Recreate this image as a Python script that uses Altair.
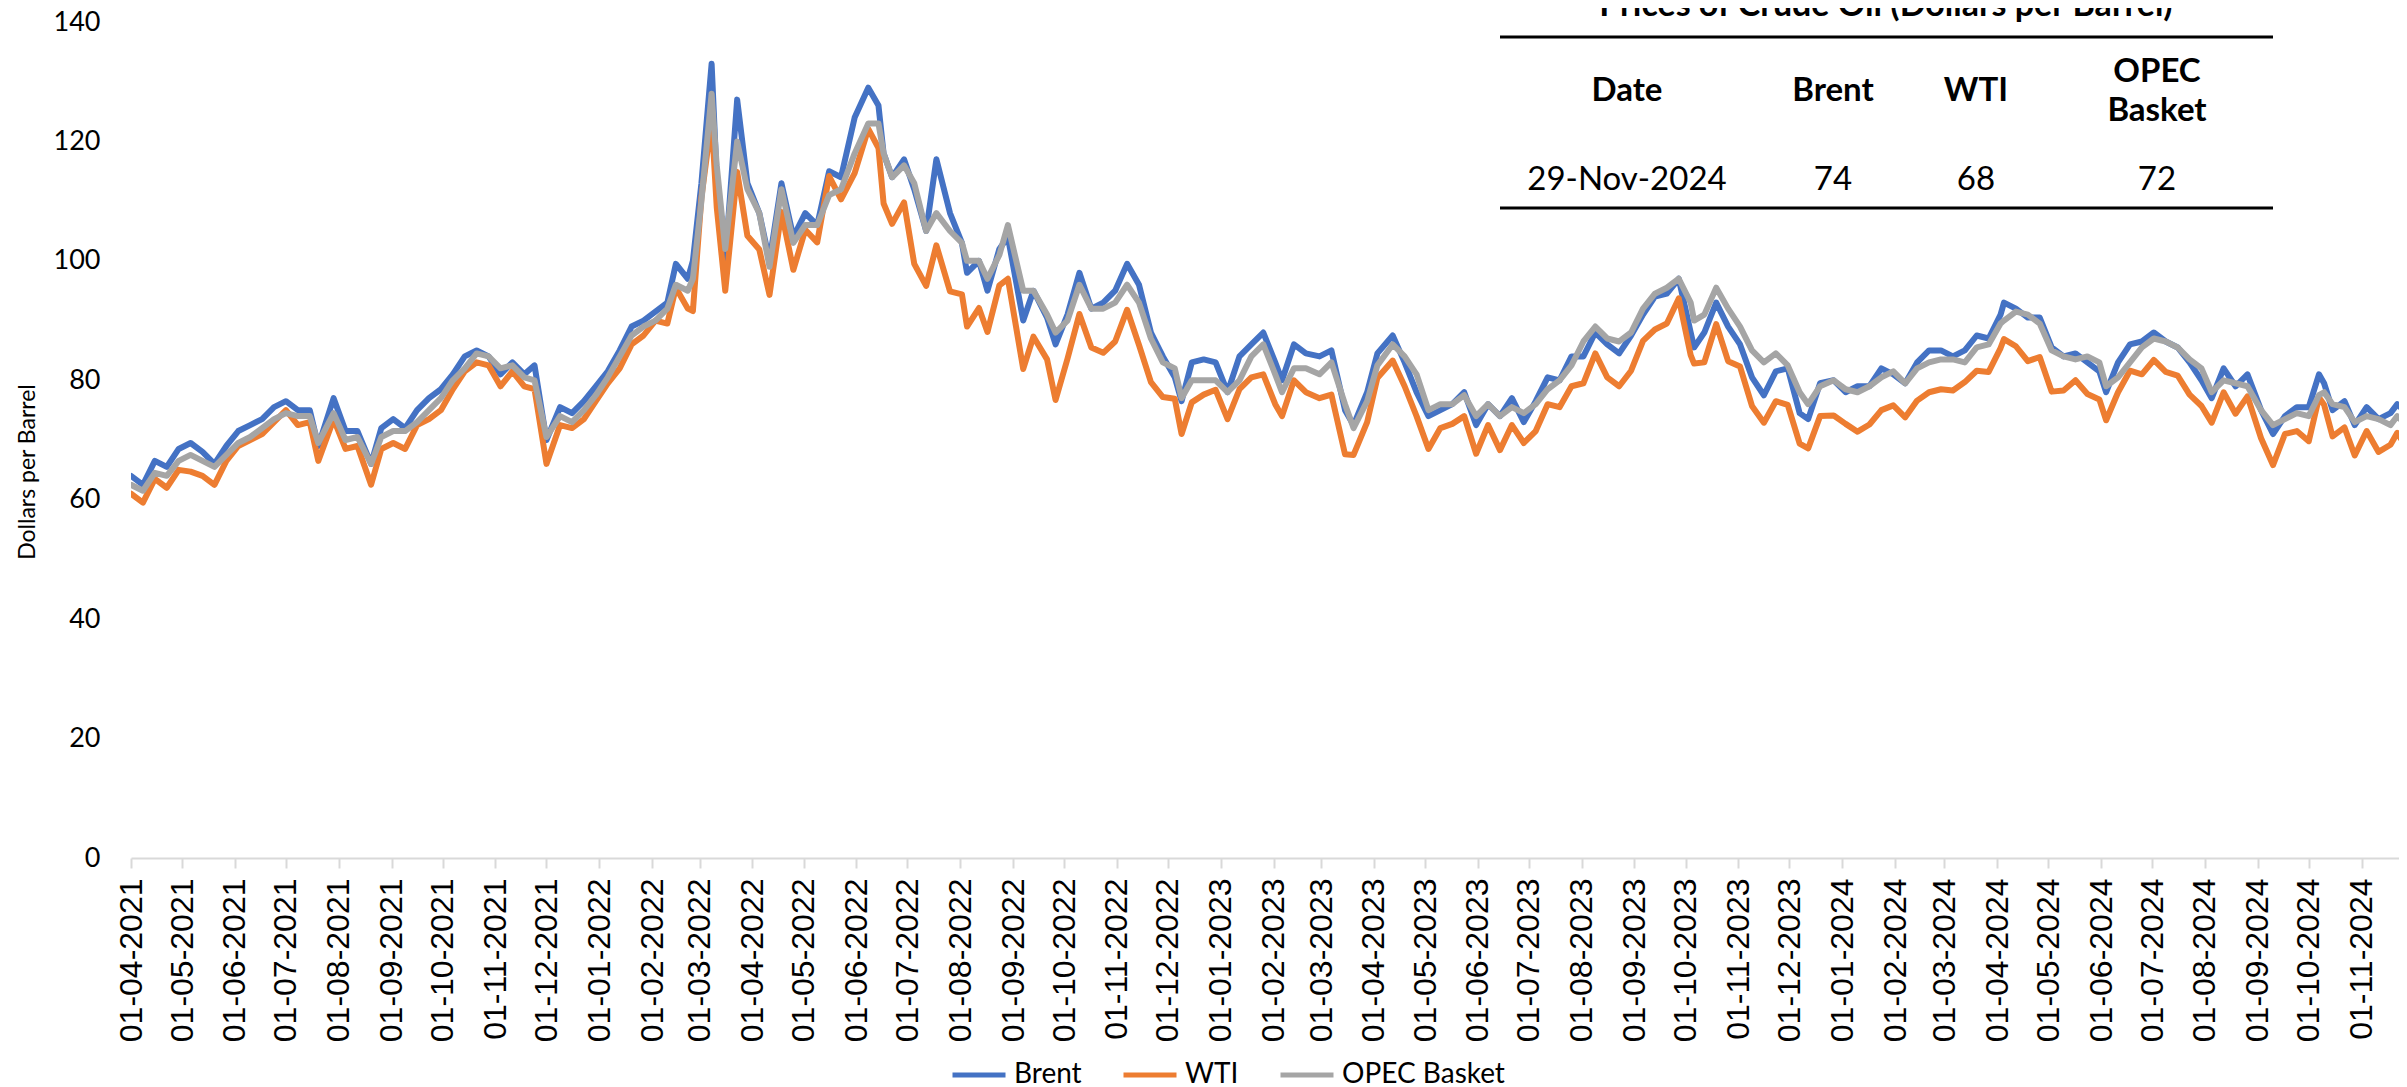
import altair as alt
import pandas as pd

# ---------------- data ----------------
dates = [
    # 2021
    "2021-04-01", "2021-04-08", "2021-04-15", "2021-04-22", "2021-04-29",
    "2021-05-06", "2021-05-13", "2021-05-20", "2021-05-27",
    "2021-06-03", "2021-06-10", "2021-06-17", "2021-06-24",
    "2021-07-01", "2021-07-08", "2021-07-15", "2021-07-20", "2021-07-29",
    "2021-08-05", "2021-08-12", "2021-08-20", "2021-08-26",
    "2021-09-02", "2021-09-09", "2021-09-16", "2021-09-23", "2021-09-30",
    "2021-10-07", "2021-10-14", "2021-10-21", "2021-10-28",
    "2021-11-04", "2021-11-11", "2021-11-18", "2021-11-24",
    "2021-12-01", "2021-12-09", "2021-12-16", "2021-12-23", "2021-12-30",
    # 2022
    "2022-01-06", "2022-01-13", "2022-01-20", "2022-01-27",
    "2022-02-03", "2022-02-10", "2022-02-15", "2022-02-22", "2022-02-25",
    "2022-03-02", "2022-03-08", "2022-03-11", "2022-03-16", "2022-03-23", "2022-03-29",
    "2022-04-05", "2022-04-11", "2022-04-18", "2022-04-25",
    "2022-05-02", "2022-05-09", "2022-05-16", "2022-05-23", "2022-05-31",
    "2022-06-08", "2022-06-14", "2022-06-17", "2022-06-22", "2022-06-29",
    "2022-07-05", "2022-07-12", "2022-07-18", "2022-07-26",
    "2022-08-02", "2022-08-05", "2022-08-12", "2022-08-17", "2022-08-24", "2022-08-29",
    "2022-09-07", "2022-09-13", "2022-09-21", "2022-09-26",
    "2022-10-03", "2022-10-10", "2022-10-17", "2022-10-24", "2022-10-31",
    "2022-11-07", "2022-11-14", "2022-11-21", "2022-11-28",
    "2022-12-05", "2022-12-09", "2022-12-15", "2022-12-22", "2022-12-29",
    # 2023
    "2023-01-05", "2023-01-12", "2023-01-19", "2023-01-26",
    "2023-02-02", "2023-02-06", "2023-02-13", "2023-02-20", "2023-02-28",
    "2023-03-07", "2023-03-15", "2023-03-20", "2023-03-28",
    "2023-04-03", "2023-04-12", "2023-04-19", "2023-04-26",
    "2023-05-03", "2023-05-10", "2023-05-17", "2023-05-24", "2023-05-31",
    "2023-06-07", "2023-06-14", "2023-06-21", "2023-06-28",
    "2023-07-05", "2023-07-12", "2023-07-19", "2023-07-26",
    "2023-08-02", "2023-08-09", "2023-08-16", "2023-08-23", "2023-08-30",
    "2023-09-06", "2023-09-13", "2023-09-20", "2023-09-27",
    "2023-10-04", "2023-10-06", "2023-10-12", "2023-10-19", "2023-10-26",
    "2023-11-02", "2023-11-09", "2023-11-16", "2023-11-23", "2023-11-30",
    "2023-12-07", "2023-12-12", "2023-12-19", "2023-12-27",
    # 2024
    "2024-01-03", "2024-01-10", "2024-01-17", "2024-01-24", "2024-01-31",
    "2024-02-07", "2024-02-14", "2024-02-21", "2024-02-28",
    "2024-03-06", "2024-03-13", "2024-03-20", "2024-03-27",
    "2024-04-03", "2024-04-05", "2024-04-12", "2024-04-19", "2024-04-26",
    "2024-05-03", "2024-05-10", "2024-05-17", "2024-05-24", "2024-05-31",
    "2024-06-04", "2024-06-11", "2024-06-18", "2024-06-25",
    "2024-07-02", "2024-07-09", "2024-07-16", "2024-07-23", "2024-07-30",
    "2024-08-05", "2024-08-12", "2024-08-19", "2024-08-26",
    "2024-09-03", "2024-09-10", "2024-09-17", "2024-09-24",
    "2024-10-01", "2024-10-07", "2024-10-10", "2024-10-15", "2024-10-22", "2024-10-28",
    "2024-11-04", "2024-11-11", "2024-11-18", "2024-11-22", "2024-11-29",
]

brent = [
    # 2021
    64, 62.5, 66.5, 65.5, 68.5,
    69.5, 68, 66, 69,
    71.5, 72.5, 73.5, 75.5,
    76.5, 75, 75, 69, 77,
    71.5, 71.5, 66, 72,
    73.5, 72, 75, 77, 78.5,
    81, 84, 85, 84,
    81, 83, 81, 82.5,
    70, 75.5, 74.5, 76.5, 79,
    # 2022
    81.5, 85, 89, 90,
    91.5, 93, 99.5, 97, 100,
    113, 133, 114, 100, 127, 113,
    108, 100, 113, 104,
    108, 106, 115, 114, 124,
    129, 126, 118, 114, 117,
    112, 105, 117, 108,
    103, 98, 100, 95, 102, 104,
    90, 95, 90.5, 86,
    91, 98, 92, 93, 95,
    99.5, 96, 88, 84,
    80.5, 76.5, 83, 83.5, 83,
    # 2023
    78, 84, 86, 88,
    83, 80, 86, 84.5, 84,
    85, 75, 72.5, 78,
    84.5, 87.5, 83, 78,
    74, 75, 76, 78, 72.5,
    76, 74, 77, 73,
    76.5, 80.5, 80, 84,
    84, 88, 86, 84.5, 87.5,
    91, 94, 94.5, 97,
    88, 85.5, 88, 93, 89,
    86, 80.5, 77.5, 81.5, 82,
    74.5, 73.5, 79.5, 80,
    # 2024
    78, 79, 79, 82, 81,
    79.5, 83, 85, 85,
    84, 85, 87.5, 87,
    91, 93, 92, 90.5, 90.5,
    85.5, 84, 84.5, 83, 81.5,
    78, 83, 86, 86.5,
    88, 86.5, 85.5, 83, 80,
    77, 82, 79, 81,
    75, 71, 74, 75.5,
    75.5, 81, 79.5, 75, 76.5, 72.5,
    75.5, 73.5, 74.5, 76, 74,
]

wti = [
    # 2021
    61, 59.5, 63.5, 62, 65,
    64.7, 64, 62.5, 66.5,
    69, 70, 71, 73,
    75, 72.5, 73, 66.5, 73.5,
    68.5, 69, 62.5, 68.5,
    69.5, 68.5, 72.5, 73.5, 75,
    78.5, 81.5, 83, 82.5,
    79, 81.5, 79, 78.5,
    66, 72.5, 72, 73.5, 76.5,
    # 2022
    79.5, 82, 86, 87.5,
    90, 89.5, 95.5, 92, 91.6,
    110.6, 123.7, 109, 95, 114.9, 104.2,
    101.9, 94.3, 108.2, 98.5,
    105.2, 103.1, 114.2, 110.3, 114.7,
    122.1, 118.9, 109.6, 106.2, 109.8,
    99.5, 95.8, 102.6, 94.9,
    94.4, 89, 92.1, 88.1, 95.9, 97,
    81.9, 87.3, 83.5, 76.7,
    83.6, 91.1, 85.5, 84.6, 86.5,
    91.8, 85.9, 79.7, 77.2,
    76.9, 71, 76.3, 77.6, 78.4,
    # 2023
    73.5, 78.5, 80.5, 81,
    76, 74, 80, 78, 77,
    77.6, 67.6, 67.5, 73,
    80.4, 83.3, 79, 74,
    68.5, 72, 72.7, 74, 67.7,
    72.5, 68.3, 72.5, 69.5,
    71.5, 76, 75.5, 79,
    79.5, 84.5, 80.5, 79, 81.6,
    86.6, 88.5, 89.5, 93.7,
    84.2, 82.8, 83, 89.4, 83.2,
    82.3, 75.7, 72.9, 76.5, 75.9,
    69.4, 68.6, 74, 74.1,
    # 2024
    72.7, 71.4, 72.6, 75, 75.8,
    73.8, 76.6, 78, 78.5,
    78.3, 79.7, 81.6, 81.4,
    85.4, 86.9, 85.7, 83.2, 83.9,
    78.1, 78.3, 80, 77.7, 76.8,
    73.3, 78, 81.6, 81,
    83.4, 81.4, 80.8, 77.6, 75.7,
    72.9, 78, 74.4, 77.3,
    70.3, 65.8, 71, 71.5,
    69.8, 77.1, 75.9, 70.6, 72.1, 67.4,
    71.5, 68, 69.2, 71.2, 68,
]

opec = [
    # 2021
    62.5, 61.5, 64.5, 64, 66.5,
    67.5, 66.5, 65.5, 67.5,
    69.5, 70.5, 72, 73.5,
    74.5, 74, 74, 69.5, 74.5,
    70, 70.5, 66, 70.5,
    71.5, 71.5, 73, 75, 77,
    80, 82, 84.5, 84,
    82, 82.5, 80.5, 80,
    70.5, 74, 73, 75, 77.5,
    # 2022
    80.5, 84, 87.5, 89,
    90, 92, 96, 95, 97,
    110, 128, 116, 102, 120, 112,
    108, 99, 112, 103,
    106, 106, 111, 112, 118,
    123, 123, 118, 114, 116,
    113, 105, 108, 105,
    103, 100, 100, 97, 101, 106,
    95, 95, 91, 88,
    90, 96, 92, 92, 93,
    96, 93, 87, 83,
    82, 77, 80, 80, 80,
    # 2023
    78, 80, 84, 86,
    81, 78, 82, 82, 81,
    83, 76, 72, 76.5,
    82.5, 86, 84, 81,
    75, 76, 76, 77.5, 74,
    76, 74, 75.5, 74.5,
    76, 78.5, 80, 82.5,
    86.5, 89, 87, 86.5, 88,
    92, 94.5, 95.5, 97,
    93, 90, 91, 95.5, 92,
    89, 85, 83, 84.5, 82.5,
    78, 76, 79, 80,
    # 2024
    78.5, 78, 79, 80.5, 81.5,
    79.5, 82, 83, 83.5,
    83.5, 83, 85.5, 86,
    89.5, 90, 91.5, 91, 89.5,
    85, 84, 83.5, 84, 83,
    79, 80.5, 83, 85.5,
    87, 86.5, 85.5, 83.5, 82,
    78, 80, 79.5, 79,
    75, 72.5, 73.5, 74.5,
    74, 77.5, 78, 76, 75.5, 73,
    74, 73.5, 72.5, 74, 72,
]

assert len(dates) == len(brent) == len(wti) == len(opec)

series_names = ["Brent", "WTI", "OPEC Basket"]
series_colors = ["#4472C4", "#ED7D31", "#A5A5A5"]

y_ticks = [0, 20, 40, 60, 80, 100, 120, 140]
y_title = "Dollars per Barrel"
x_tick_dates = [d.strftime("%Y-%m-%d") for d in pd.date_range("2021-04-01", "2024-11-01", freq="MS")]
x_domain = ["2021-04-01", "2024-11-23"]

table_title = "Prices of Crude Oil (Dollars per Barrel)"
table_header = ["Date", "Brent", "WTI", "OPEC\nBasket"]
table_row = ["29-Nov-2024", "74", "68", "72"]

# ---------------- build ----------------
def ms(s):
    return int(pd.Timestamp(s).value // 10**6)

df = pd.DataFrame({
    "date": dates * 3,
    "value": brent + wti + opec,
    "series": ["Brent"] * len(dates) + ["WTI"] * len(dates) + ["OPEC Basket"] * len(dates),
})

x_enc = alt.X(
    "date:T",
    scale=alt.Scale(type="utc", domain=[ms(x_domain[0]), ms(x_domain[1])]),
    axis=alt.Axis(
        values=[ms(d) for d in x_tick_dates],
        labelExpr="utcFormat(datum.value, '%d-%m-%Y')",
        labelAngle=270,
        labelFont="Liberation Sans",
        labelFontSize=32,
        labelColor="#000000",
        labelPadding=10,
        labelFlush=False,
        labelOverlap=False,
        tickSize=10,
        tickColor="#D9D9D9",
        tickWidth=2,
        domainColor="#D9D9D9",
        domainWidth=2,
        grid=False,
        title=None,
    ),
)

y_enc = alt.Y(
    "value:Q",
    scale=alt.Scale(domain=[0, 140], nice=False),
    axis=alt.Axis(
        values=y_ticks,
        grid=False,
        domain=False,
        ticks=False,
        tickSize=0,
        labelPadding=31,
        labelFont="Lato",
        labelFontSize=27,
        labelColor="#000000",
        title=None,
    ),
)

color_enc = alt.Color(
    "series:N",
    scale=alt.Scale(domain=series_names, range=series_colors),
    legend=alt.Legend(
        orient="none",
        legendX=819,
        legendY=1024,
        direction="horizontal",
        title=None,
        symbolType="stroke",
        symbolSize=2809,
        symbolStrokeWidth=5,
        labelFont="Lato",
        labelFontSize=28,
        labelColor="#000000",
        labelOffset=6,
        labelLimit=0,
        columnPadding=31,
    ),
)

lines = [
    alt.Chart(df)
    .transform_filter(alt.datum.series == name)
    .mark_line(strokeWidth=6, clip=True, strokeJoin="round", strokeCap="round")
    .encode(x=x_enc, y=y_enc, color=color_enc)
    for name in series_names
]

# y-axis title as a rotated text (layout position in plot pixels)
y_title_layer = (
    alt.Chart(pd.DataFrame({"t": [y_title]}))
    .mark_text(font="Lato", fontSize=23, color="#000000", angle=270, align="center", baseline="middle")
    .encode(text="t:N", x=alt.value(-103), y=alt.value(450))
)

# table annotation (layout positions in plot pixels)
col_px = [1496, 1702, 1845, 2026]
header_y = [69, 69, 69, 50]
text_layers = [y_title_layer]
text_layers.append(
    alt.Chart(pd.DataFrame({"t": [table_title]}))
    .mark_text(font="Lato", fontSize=34, fontWeight="bold", color="#000000", align="center", baseline="middle")
    .encode(text="t:N", x=alt.value(1755), y=alt.value(-16))
)
for i in range(4):
    text_layers.append(
        alt.Chart(pd.DataFrame({"t": [table_header[i]]}))
        .mark_text(font="Lato", fontSize=33, fontWeight="bold", color="#000000", align="center",
                   baseline="middle", lineBreak="\n", lineHeight=39)
        .encode(text="t:N", x=alt.value(col_px[i]), y=alt.value(header_y[i]))
    )
    text_layers.append(
        alt.Chart(pd.DataFrame({"t": [table_row[i]]}))
        .mark_text(font="Lato", fontSize=33, color="#000000", align="center", baseline="middle")
        .encode(text="t:N", x=alt.value(col_px[i]), y=alt.value(158))
    )

rules = [
    alt.Chart(pd.DataFrame({"r": [0]}))
    .mark_rule(color="#000000", strokeWidth=3)
    .encode(x=alt.value(1369), x2=alt.value(2142), y=alt.value(yy))
    for yy in (15, 186)
]

chart = (
    alt.layer(*lines, *rules, *text_layers)
    .properties(
        width=2268,
        height=836,
        autosize=alt.AutoSizeParams(type="none"),
        padding={"left": 123, "top": 14, "right": 0, "bottom": 229},
        background="#ffffff",
    )
    .configure_view(stroke=None)
)

chart.save("out.html", embed_options={"renderer": "svg", "actions": False})
